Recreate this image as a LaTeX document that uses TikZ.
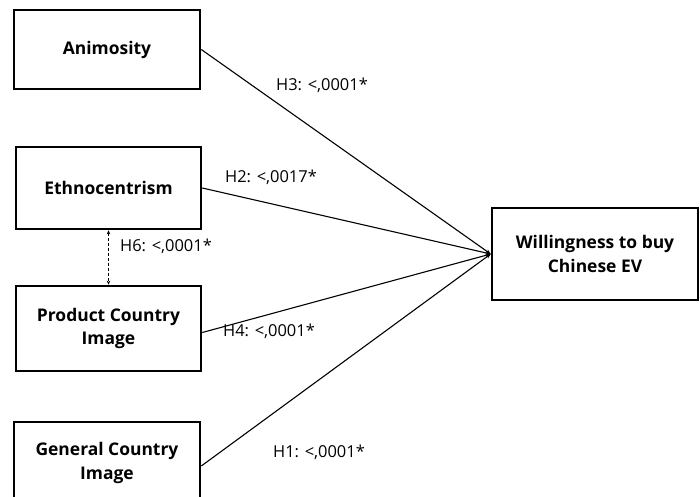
\documentclass[tikz,border=0pt]{standalone}
\usepackage{fontspec}
\setmainfont{Open Sans}
\usetikzlibrary{arrows.meta}
\begin{document}
\begin{tikzpicture}[x=1bp,y=-1bp,
  box/.style={draw, line width=2.6bp, align=center, inner sep=0pt,
    font=\fontsize{17.5}{24}\selectfont\bfseries},
  lbl/.style={font=\fontsize{16.5}{18}\selectfont, inner sep=0pt},
  conn/.style={line width=1.1bp, -{Stealth[length=5bp,width=4bp]}},
  dconn/.style={line width=1bp, dash pattern=on 3bp off 2bp, {Stealth[length=4bp,width=3.5bp]}-{Stealth[length=4bp,width=3.5bp]}}]
\useasboundingbox (0,0) rectangle (700,497);
\node[box, minimum width=186bp, minimum height=79bp] (anim) at (107,49.5) {Animosity};
\node[box, minimum width=185bp, minimum height=82bp] (eth) at (108.5,188) {Ethnocentrism};
\node[box, minimum width=185bp, minimum height=85bp] (pci) at (108.5,328.5) {Product Country\\Image};
\node[box, minimum width=186bp, minimum height=82bp] (gci) at (107,463) {General Country\\Image};
\node[box, minimum width=206bp, minimum height=92bp] (tgt) at (595,254) {Willingness to buy\\Chinese EV};
\draw[conn] (anim.east) -- (tgt.west);
\draw[conn] (eth.east) -- (tgt.west);
\draw[conn] ([yshift=-4bp]pci.east) -- (tgt.west);
\draw[conn] ([yshift=-3bp]gci.east) -- (tgt.west);
\draw[dconn] (eth.south) -- (pci.north);
\node[lbl] (l3) at (322,85) {H3: <,0001*};
\node[lbl] (l2) at (271,177) {H2: <,0017*};
\node[lbl] (l6) at (166,246) {H6: <,0001*};
\node[lbl] (l4) at (269,331) {H4: <,0001*};
\node[lbl] (l1) at (319,452) {H1: <,0001*};
\end{tikzpicture}
\end{document}
